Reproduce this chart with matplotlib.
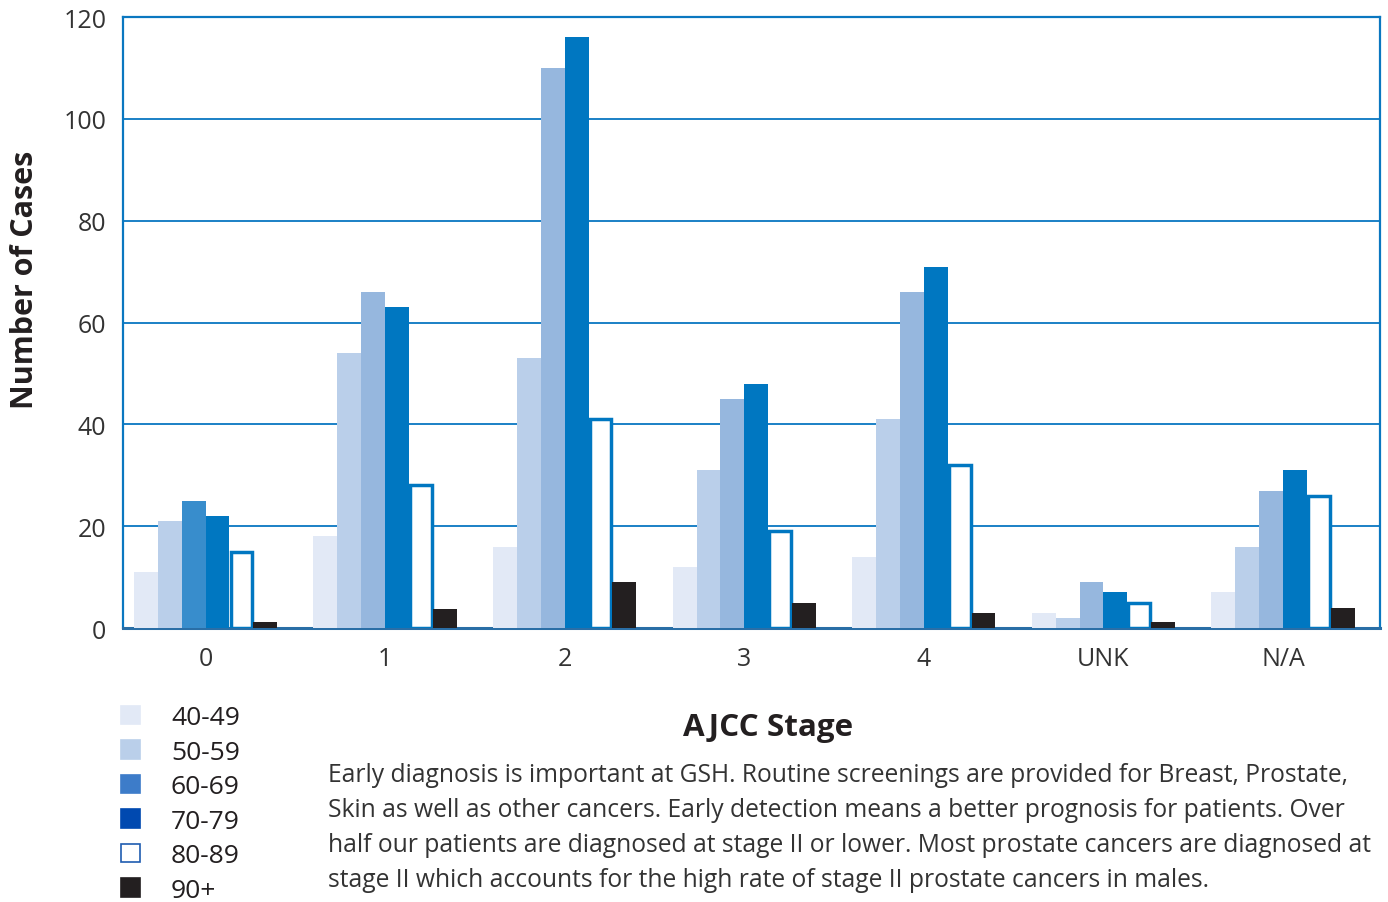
import matplotlib
matplotlib.use("Agg")
import matplotlib.pyplot as plt
from matplotlib.patches import Patch
import numpy as np

plt.rcParams['font.family'] = ['Open Sans', 'DejaVu Sans']

stages = ['0', '1', '2', '3', '4', 'UNK', 'N/A']
age_groups = ['40-49', '50-59', '60-69', '70-79', '80-89', '90+']
s_40_49 = [11, 18, 16, 12, 14, 3, 7]
s_50_59 = [21, 54, 53, 31, 41, 2, 16]
s_60_69 = [25, 66, 110, 45, 66, 9, 27]
s_70_79 = [22, 63, 116, 48, 71, 7, 31]
s_80_89 = [15, 28, 41, 19, 32, 5, 26]
s_90p = [1.2, 3.7, 9, 5, 3, 1.2, 4]
series = [s_40_49, s_50_59, s_60_69, s_70_79, s_80_89, s_90p]

bar_faces = ['#e2e9f6', '#bacfea', '#96b7de', '#0077c1', 'white', '#231f20']
bar_edges = ['none', 'none', 'none', 'none', '#0077c1', 'none']
legend_faces = ['#e2e9f6', '#bacfea', '#3d7cc9', '#0049b0', 'white', '#231f20']
legend_edges = ['#e2e9f6', '#bacfea', '#3d7cc9', '#0049b0', '#1f5cb0', '#231f20']

caption_lines = [
    "Early diagnosis is important at GSH. Routine screenings are provided for Breast, Prostate,",
    "Skin as well as other cancers. Early detection means a better prognosis for patients. Over",
    "half our patients are diagnosed at stage II or lower. Most prostate cancers are diagnosed at",
    "stage II which accounts for the high rate of stage II prostate cancers in males.",
]

fig = plt.figure(figsize=(13.88, 9.03), dpi=100)
ax = fig.add_axes([0.0886, 0.3034, 0.9056, 0.6766])

x = np.arange(len(stages))
w = 0.133
for i, (vals, fc, ec) in enumerate(zip(series, bar_faces, bar_edges)):
    off = (i - 2.5) * w
    bars = ax.bar(x + off, vals, width=w if ec == 'none' else w - 0.012,
                  color=fc, edgecolor=ec, linewidth=2.5 if ec != 'none' else 0, zorder=3)
    if i == 2:
        bars[0].set_facecolor('#388dcc')

ax.set_xlim(-0.46, 6.54)
ax.set_ylim(0, 120)
ax.set_yticks(range(0, 121, 20))
ax.set_xticks(x)
ax.set_xticklabels(stages)
ax.grid(axis='y', color='#1a80c6', linewidth=1.4, zorder=1)
ax.set_axisbelow(True)
ax.tick_params(axis='both', length=0, labelsize=18, colors='#333333')
ax.tick_params(axis='x', pad=13)
ax.tick_params(axis='y', pad=12)
for side in ['left', 'right', 'top']:
    ax.spines[side].set_color('#0a77c0')
    ax.spines[side].set_linewidth(1.6)
ax.spines['bottom'].set_color('#2a6ea6')
ax.spines['bottom'].set_linewidth(2.2)

fig.text(0.018, 0.69, 'Number of Cases', rotation=90, fontsize=22, fontweight='bold',
         color='#231f20', ha='center', va='center')
fig.text(0.553, 1 - 728 / 903, 'AJCC Stage', fontsize=22.6, fontweight='bold', color='#231f20',
         ha='center', va='center')
for k, line in enumerate(caption_lines):
    ypix = 776 + 34.8 * k
    fig.text(0.2363, 1 - ypix / 903, line, fontsize=17.7, color='#333333',
             ha='left', va='center')

handles = [Patch(facecolor=f, edgecolor=e, linewidth=1.2) for f, e in zip(legend_faces, legend_edges)]
fig.legend(handles, age_groups, loc='upper left', bbox_to_anchor=(0.0872, 0.218), frameon=False,
           fontsize=19, handlelength=0.72, handleheight=0.72, handletextpad=1.17, labelspacing=0.36,
           borderpad=0, borderaxespad=0, labelcolor='#231f20')

fig.savefig('out.png', dpi=100)
